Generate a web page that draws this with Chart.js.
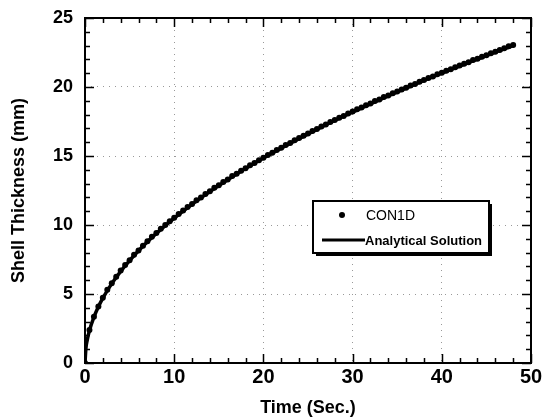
<!DOCTYPE html>
<html>
<head>
<meta charset="utf-8">
<script src="https://cdn.jsdelivr.net/npm/chart.js@4/dist/chart.umd.min.js"></script>
<style>
  html, body { margin: 0; padding: 0; background: #fff; }
  #wrap { width: 542px; height: 419px; }
</style>
</head>
<body>
<div id="wrap"><canvas id="chart" width="542" height="419"></canvas></div>
<script>
'use strict';

// ── Data ──────────────────────────────────────────────────────────────────────
const TIME_DOTS = [
  0, 0.5, 1, 1.5, 2, 2.5, 3, 3.5, 4, 4.5, 5, 5.5, 6, 6.5, 7, 7.5, 8, 8.5, 9, 9.5,
  10, 10.5, 11, 11.5, 12, 12.5, 13, 13.5, 14, 14.5, 15, 15.5, 16, 16.5, 17, 17.5,
  18, 18.5, 19, 19.5, 20, 20.5, 21, 21.5, 22, 22.5, 23, 23.5, 24, 24.5, 25, 25.5,
  26, 26.5, 27, 27.5, 28, 28.5, 29, 29.5, 30, 30.5, 31, 31.5, 32, 32.5, 33, 33.5,
  34, 34.5, 35, 35.5, 36, 36.5, 37, 37.5, 38, 38.5, 39, 39.5, 40, 40.5, 41, 41.5,
  42, 42.5, 43, 43.5, 44, 44.5, 45, 45.5, 46, 46.5, 47, 47.5, 48
];
const THICK_DOTS = [
  0, 2.4, 3.35, 4.1, 4.72, 5.3, 5.78, 6.25, 6.7, 7.1, 7.45, 7.85, 8.15, 8.5, 8.82, 9.15, 9.42, 9.72, 10.0, 10.28,
  10.52, 10.8, 11.05, 11.3, 11.52, 11.8, 12.0, 12.25, 12.45, 12.7, 12.88, 13.12, 13.3, 13.55, 13.72, 13.93,
  14.12, 14.33, 14.5, 14.7, 14.88, 15.08, 15.24, 15.44, 15.6, 15.8, 15.95, 16.14, 16.3, 16.47, 16.63, 16.82,
  16.96, 17.14, 17.28, 17.46, 17.6, 17.77, 17.9, 18.08, 18.22, 18.38, 18.52, 18.68, 18.8, 18.98, 19.1, 19.27,
  19.38, 19.55, 19.67, 19.82, 19.95, 20.1, 20.22, 20.38, 20.5, 20.65, 20.76, 20.92, 21.03, 21.18, 21.28, 21.44,
  21.55, 21.68, 21.8, 21.95, 22.05, 22.2, 22.3, 22.44, 22.55, 22.68, 22.8, 22.95, 23.05
];
const TIME_LINE  = [0, 0.1, 0.25, 0.5, 1, 1.5, 2, 3, 4, 5, 6, 7, 8, 10, 12, 14, 16, 18, 20,
                    22, 24, 26, 28, 30, 32, 34, 36, 38, 40, 42, 44, 46, 48];
const THICK_LINE = [0, 1.05, 1.66, 2.35, 3.32, 4.07, 4.70, 5.75, 6.64, 7.42, 8.13, 8.78, 9.39, 10.50,
                    11.50, 12.42, 13.28, 14.09, 14.85, 15.57, 16.26, 16.93, 17.57, 18.18, 18.78,
                    19.36, 19.92, 20.47, 21.00, 21.52, 22.02, 22.52, 23.00];

const X_MIN = 0, X_MAX = 50, X_MAJOR = 10, X_MINOR = 2;
const Y_MIN = 0, Y_MAX = 25, Y_MAJOR = 5,  Y_MINOR = 1;

const LABEL_DOTS = 'CON1D';
const LABEL_LINE = 'Analytical Solution';

// ── Frame plugin: inward ticks, border, legend ────────────────────────────────
const framePlugin = {
  id: 'frame',
  afterDatasetsDraw(chart) {
    const { ctx, chartArea: a, scales: { x, y } } = chart;
    ctx.save();
    ctx.strokeStyle = '#000';
    ctx.lineWidth = 1.5;
    ctx.beginPath();
    for (let v = X_MIN; v <= X_MAX; v += X_MINOR) {
      const px = Math.round(x.getPixelForValue(v)) + 0.5;
      const len = v % X_MAJOR === 0 ? 9 : 5;
      ctx.moveTo(px, a.bottom); ctx.lineTo(px, a.bottom - len);
      ctx.moveTo(px, a.top);    ctx.lineTo(px, a.top + len);
    }
    for (let v = Y_MIN; v <= Y_MAX; v += Y_MINOR) {
      const py = Math.round(y.getPixelForValue(v)) + 0.5;
      const len = v % Y_MAJOR === 0 ? 9 : 5;
      ctx.moveTo(a.left, py);  ctx.lineTo(a.left + len, py);
      ctx.moveTo(a.right, py); ctx.lineTo(a.right - len, py);
    }
    ctx.stroke();

    ctx.lineWidth = 2;
    ctx.strokeRect(a.left, a.top, a.right - a.left, a.bottom - a.top);

    // legend box
    const lx = 313, ly = 201, lw = 176, lh = 52;
    ctx.fillStyle = '#000';
    ctx.fillRect(lx + 3, ly + 3, lw, lh);
    ctx.fillStyle = '#fff';
    ctx.fillRect(lx, ly, lw, lh);
    ctx.lineWidth = 2;
    ctx.strokeRect(lx, ly, lw, lh);

    ctx.fillStyle = '#000';
    ctx.beginPath();
    ctx.arc(342, 215, 3, 0, Math.PI * 2);
    ctx.fill();
    ctx.textBaseline = 'middle';
    ctx.font = '14px "Liberation Sans", Arial, sans-serif';
    ctx.fillText(LABEL_DOTS, 366, 216);

    ctx.lineWidth = 3;
    ctx.beginPath();
    ctx.moveTo(322, 240); ctx.lineTo(365, 240);
    ctx.stroke();
    ctx.font = 'bold 13px "Liberation Sans", Arial, sans-serif';
    ctx.fillText(LABEL_LINE, 365, 241);
    ctx.restore();
  }
};

// ── Chart ─────────────────────────────────────────────────────────────────────
const FONT = '"Liberation Sans", Arial, Helvetica, sans-serif';
Chart.defaults.font.family = FONT;
Chart.defaults.color = '#000';

new Chart(document.getElementById('chart').getContext('2d'), {
  type: 'scatter',
  data: {
    datasets: [
      {
        label: LABEL_LINE,
        type: 'line',
        data: TIME_LINE.map((t, i) => ({ x: t, y: THICK_LINE[i] })),
        borderColor: '#000',
        borderWidth: 3.5,
        pointRadius: 0,
        cubicInterpolationMode: 'monotone',
        fill: false,
      },
      {
        label: LABEL_DOTS,
        data: TIME_DOTS.map((t, i) => ({ x: t, y: THICK_DOTS[i] })),
        backgroundColor: '#000',
        borderColor: '#000',
        pointRadius: 3,
        borderWidth: 0,
      },
    ]
  },
  options: {
    responsive: false,
    animation: false,
    layout: { padding: { left: 0, right: 11, top: 18, bottom: 0 } },
    plugins: { legend: { display: false }, tooltip: { enabled: false } },
    scales: {
      x: {
        type: 'linear',
        min: X_MIN, max: X_MAX,
        afterFit: s => { s.height = 56; s.paddingLeft = 0; s.paddingRight = 0; },
        ticks: { stepSize: X_MAJOR, padding: 2, font: { size: 20, weight: 'bold' } },
        grid: { drawTicks: false, color: '#999', lineWidth: 1 },
        border: { display: false, dash: [1, 5] },
        title: { display: true, text: 'Time (Sec.)', padding: { top: 7, bottom: 0 },
                 font: { size: 18, weight: 'bold' } },
      },
      y: {
        type: 'linear',
        min: Y_MIN, max: Y_MAX,
        afterFit: s => { s.width = 85; s.paddingTop = 0; s.paddingBottom = 0; },
        ticks: { stepSize: Y_MAJOR, padding: 12, font: { size: 18, weight: 'bold' } },
        grid: { drawTicks: false, color: '#999', lineWidth: 1 },
        border: { display: false, dash: [1, 5] },
        title: { display: true, text: 'Shell Thickness (mm)', padding: { top: 8, bottom: 0 },
                 font: { size: 18, weight: 'bold' } },
      }
    }
  },
  plugins: [framePlugin]
});
</script>
</body>
</html>
